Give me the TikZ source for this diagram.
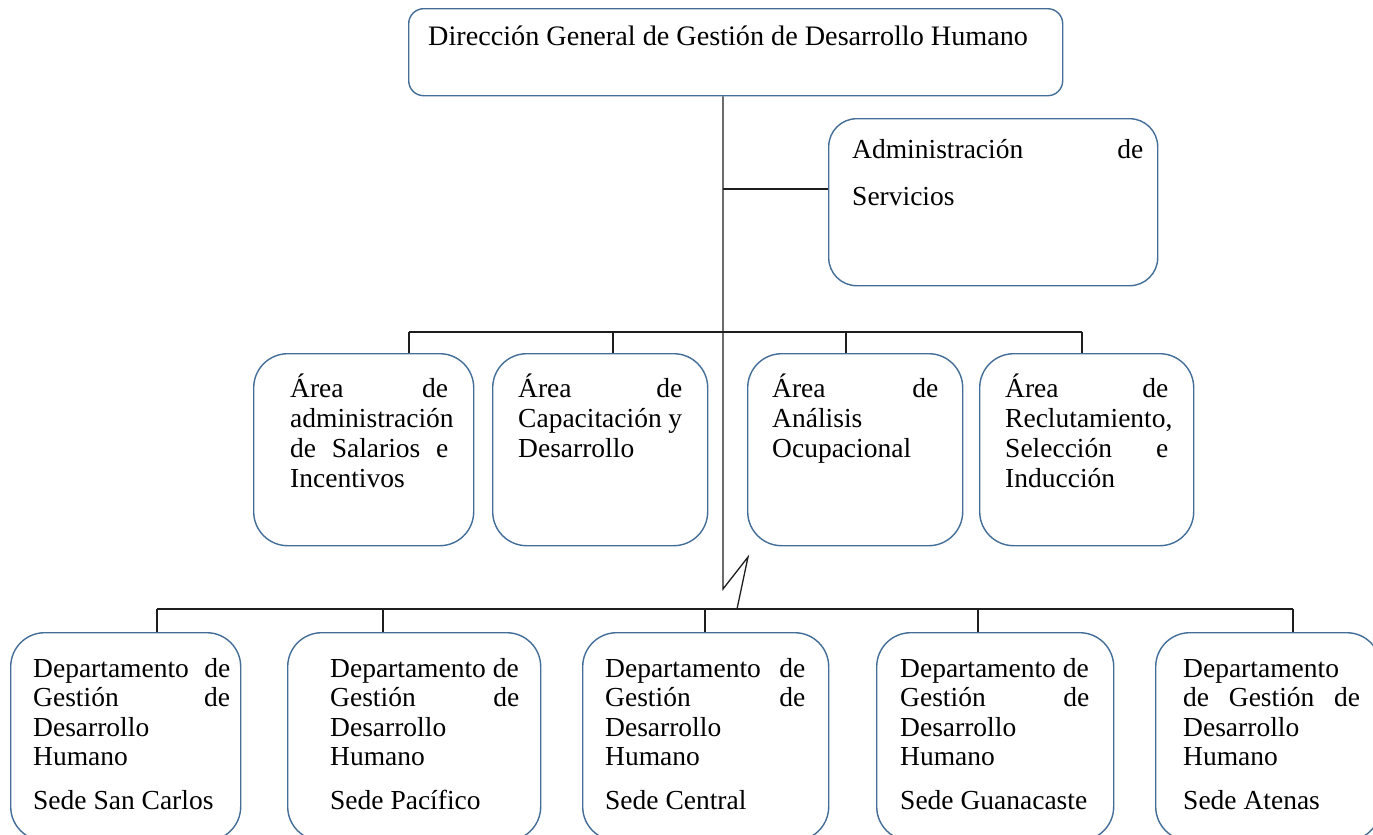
\documentclass[tikz,border=0pt]{standalone}
\usepackage{fontspec}
\setmainfont{Liberation Serif}
\usetikzlibrary{calc}
\definecolor{boxc}{RGB}{68,110,152}
\definecolor{linec}{RGB}{30,30,30}
\newcommand{\jl}[2]{\hbox to #1{#2}}
\newcommand{\tblock}[2]{\vtop{\baselineskip=#1\lineskiplimit=-20pt\lineskip=0pt #2}}
\tikzset{
  box/.style={draw=boxc, line width=1.4pt, rounded corners=#1, fill=white, inner sep=0pt, anchor=north west},
  box/.default=30pt,
  lbl/.style={inner sep=0pt, anchor=base west, font=\fontsize{27.5}{30}\selectfont},
  conn/.style={draw=linec, line width=1.3pt}
}
\begin{document}
\begin{tikzpicture}[x=1pt,y=-1pt]
\useasboundingbox (0,0) rectangle (1373,835);
\clip (0,0) rectangle (1373,835);
\fill[white] (0,0) rectangle (1373,835);

% reference coordinates for connector positions
\coordinate (xt) at (723,0);
\coordinate (ja) at (723,189);
\coordinate (bm) at (409,332);
\coordinate (bme) at (1082,332);
\coordinate (z1) at (723,589);
\coordinate (z2) at (748,557);
\coordinate (z3) at (737,609);
\coordinate (bb) at (157,609);
\coordinate (bbe) at (1293,609);
\coordinate (dm2) at (613,332);
\coordinate (dm3) at (846,332);
\coordinate (db2) at (383,609);
\coordinate (db3) at (705,609);
\coordinate (db4) at (978,609);

% boxes
\node[box=15pt, minimum width=654pt, minimum height=87pt] (top) at (408,8) {};
\node[box=28pt, minimum width=329pt, minimum height=167pt] (adm) at (828,118) {};
\node[box=34pt, minimum width=220pt, minimum height=192pt] (m1) at (253,353) {};
\node[box=34pt, minimum width=215pt, minimum height=192pt] (m2) at (492,353) {};
\node[box=34pt, minimum width=215pt, minimum height=192pt] (m3) at (747,353) {};
\node[box=34pt, minimum width=214pt, minimum height=192pt] (m4) at (979,353) {};
\node[box=34pt, minimum width=230pt, minimum height=208pt] (b1) at (10,632) {};
\node[box=34pt, minimum width=253pt, minimum height=208pt] (b2) at (287,632) {};
\node[box=34pt, minimum width=246pt, minimum height=208pt] (b3) at (582,632) {};
\node[box=34pt, minimum width=237pt, minimum height=208pt] (b4) at (876,632) {};
\node[box=34pt, minimum width=225pt, minimum height=208pt] (b5) at (1155,632) {};

% connectors
\draw[conn] (top.south -| xt) -- (z1) -- (z2) -- (z3);
\draw[conn] (ja) -- (ja -| adm.west);
\draw[conn] (bm) -- (bme);
\draw[conn] (bm) -- (bm |- m1.north);
\draw[conn] (dm2) -- (dm2 |- m2.north);
\draw[conn] (dm3) -- (dm3 |- m3.north);
\draw[conn] (bme) -- (bme |- m4.north);
\draw[conn] (bb) -- (bbe);
\draw[conn] (bb) -- (bb |- b1.north);
\draw[conn] (db2) -- (db2 |- b2.north);
\draw[conn] (db3) -- (db3 |- b3.north);
\draw[conn] (db4) -- (db4 |- b4.north);
\draw[conn] (bbe) -- (bbe |- b5.north);

% texts
\node[lbl, font=\fontsize{28.2}{30}\selectfont] (ttop) at (428,45) {Dirección General de Gestión de Desarrollo Humano};
\node[lbl] (tadm) at (852,158) {\tblock{47pt}{\jl{291pt}{Administración\hfill de}\hbox{Servicios}}};

\node[lbl] (tm1) at (290,397) {\tblock{30pt}{\jl{158pt}{Área\hfill de}\hbox{administración}\jl{158pt}{de\hfill Salarios\hfill e}\hbox{Incentivos}}};
\node[lbl] (tm2) at (518,397) {\tblock{30pt}{\jl{164pt}{Área\hfill de}\jl{164pt}{Capacitación\hfill y}\hbox{Desarrollo}}};
\node[lbl] (tm3) at (772,397) {\tblock{30pt}{\jl{166pt}{Área\hfill de}\hbox{Análisis}\hbox{Ocupacional}}};
\node[lbl] (tm4) at (1005,397) {\tblock{30pt}{\jl{163pt}{Área\hfill de}\hbox{Reclutamiento,}\jl{163pt}{Selección\hfill e}\hbox{Inducción}}};

\node[lbl] (tb1) at (33,677) {\tblock{29.5pt}{\jl{197pt}{Departamento\hfill de}\jl{197pt}{Gestión\hfill de}\hbox{Desarrollo}\hbox{Humano}\vskip 14pt\hbox{Sede San Carlos}}};
\node[lbl] (tb2) at (330,677) {\tblock{29.5pt}{\hbox{Departamento de}\jl{189pt}{Gestión\hfill de}\hbox{Desarrollo}\hbox{Humano}\vskip 14pt\hbox{Sede Pacífico}}};
\node[lbl] (tb3) at (605,677) {\tblock{29.5pt}{\jl{200pt}{Departamento\hfill de}\jl{200pt}{Gestión\hfill de}\hbox{Desarrollo}\hbox{Humano}\vskip 14pt\hbox{Sede Central}}};
\node[lbl] (tb4) at (900,677) {\tblock{29.5pt}{\hbox{Departamento de}\jl{189pt}{Gestión\hfill de}\hbox{Desarrollo}\hbox{Humano}\vskip 14pt\hbox{Sede Guanacaste}}};
\node[lbl] (tb5) at (1183,677) {\tblock{29.5pt}{\hbox{Departamento}\jl{177pt}{de\hfill Gestión\hfill de}\hbox{Desarrollo}\hbox{Humano}\vskip 14pt\hbox{Sede Atenas}}};
\end{tikzpicture}
\end{document}
